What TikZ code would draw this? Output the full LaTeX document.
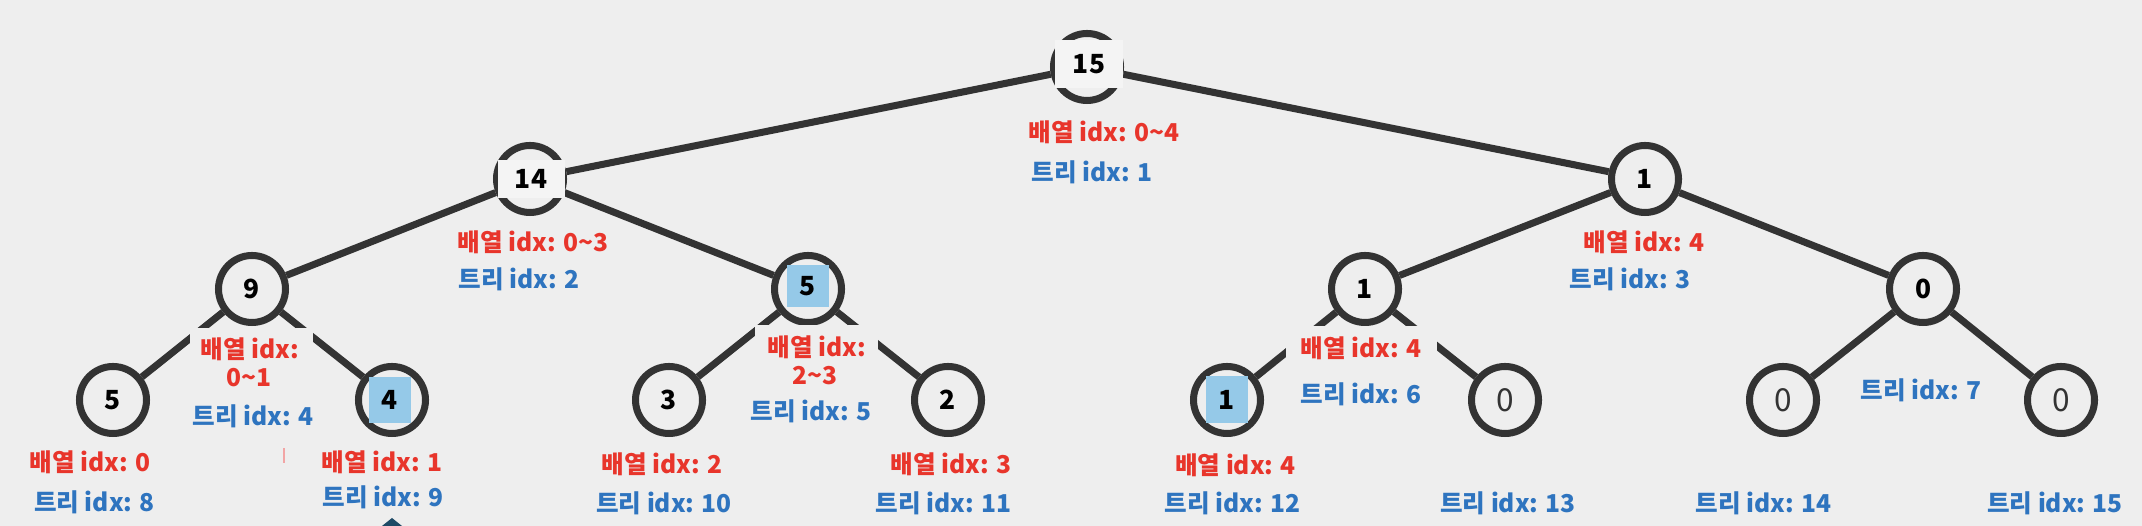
\documentclass[tikz,border=0pt]{standalone}
\usepackage{fontspec}
\setmainfont{Noto Sans CJK KR}
\usetikzlibrary{positioning}
\definecolor{paper}{HTML}{EEEEEE}
\definecolor{chalk}{HTML}{F4F4F4}
\definecolor{ink}{HTML}{333333}
\definecolor{arrred}{HTML}{E8352B}
\definecolor{treeblue}{HTML}{2E74BF}
\definecolor{skyfill}{HTML}{95C9E8}
\definecolor{slip}{HTML}{F2A5A5}
\definecolor{navy}{HTML}{1E4A66}
\tikzset{
  val/.style={circle,draw=ink,line width=2pt,fill=paper,minimum size=.67cm,inner sep=0pt,
    font=\fontsize{7.5}{9}\selectfont\bfseries},
  val0/.style={val,font=\fontsize{9}{10}\selectfont,text=ink},
  edge/.style={draw=ink,line width=2pt},
  pale/.style={fill=chalk,inner sep=0pt,font=\fontsize{7.5}{9}\selectfont\bfseries},
  hilite/.style={fill=skyfill,inner sep=0pt,minimum width=.42cm,font=\fontsize{7.5}{9}\selectfont\bfseries},
  cover/.style={fill=paper,inner sep=0pt},
  arr/.style={text=arrred,font=\fontsize{7}{8}\selectfont\bfseries,anchor=base,inner sep=0pt},
  tri/.style={text=treeblue,font=\fontsize{7}{8}\selectfont\bfseries,anchor=base,inner sep=0pt}
}
\begin{document}
\begin{tikzpicture}[x=1cm,y=1cm]
\fill[paper] (0,0) rectangle (21.42,5.26);
\useasboundingbox (0,0) rectangle (21.42,5.26);
% segment tree nodes (name = tree idx)
\foreach \n/\x/\y in {1/10.87/4.59,2/5.30/3.47,5/8.08/2.37,9/3.92/1.26,12/12.27/1.26}
  \node[val] (n\n) at (\x,\y) {};
\foreach \n/\x/\y/\v in {3/16.45/3.47/1,4/2.52/2.37/9,6/13.65/2.37/1,7/19.23/2.37/0,
  8/1.13/1.26/5,10/6.69/1.26/3,11/9.48/1.26/2}
  \node[val] (n\n) at (\x,\y) {\v};
\foreach \n/\x in {13/15.05,14/17.83,15/20.61}
  \node[val0] (n\n) at (\x,1.26) {0};
\foreach \a/\b in {1/2,1/3,2/4,2/5,3/6,3/7,4/8,4/9,5/10,5/11,6/12,6/13,7/14,7/15}
  \draw[edge] (n\a) -- (n\b);
% boxes over the lines
\node[cover,minimum width=1.23cm,minimum height=1.03cm] (c4) at (2.515,1.465) {};
\node[cover,minimum width=1.23cm,minimum height=1.06cm] (c5) at (8.165,1.48) {};
\node[cover,minimum width=1.51cm,minimum height=1.05cm] (c6) at (13.615,1.475) {};
\node[pale,minimum width=.68cm,minimum height=.48cm] (v1) at (10.89,4.62) {15};
\node[pale,minimum width=.67cm,minimum height=.38cm] (v2) at (5.31,3.47) {14};
\node[hilite,minimum height=.42cm] (v5) at (8.08,2.40) {5};
\node[hilite,minimum height=.46cm] (v9) at (3.90,1.26) {4};
\node[hilite,minimum height=.47cm] (v12) at (12.27,1.26) {1};
% labels
\node[arr,anchor=base west] (a1) at (10.28,3.84) {배열 idx: 0\textasciitilde4};
\node[tri,anchor=base west] (t1) at (10.31,3.44) {트리 idx: 1};
\node[arr,anchor=base west] (a2) at (4.57,2.74) {배열 idx: 0\textasciitilde3};
\node[tri,anchor=base west] (t2) at (4.58,2.37) {트리 idx: 2};
\node[arr] (a3) at (16.44,2.74) {배열 idx: 4};
\node[tri] (t3) at (16.30,2.37) {트리 idx: 3};
\node[arr] (a4) at (2.50,1.67) {배열 idx:};
\node[arr] (b4) at (2.49,1.39) {0\textasciitilde1};
\node[tri] (t4) at (2.53,1.00) {트리 idx: 4};
\node[arr] (a5) at (8.17,1.69) {배열 idx:};
\node[arr] (b5) at (8.15,1.41) {2\textasciitilde3};
\node[tri] (t5) at (8.11,1.05) {트리 idx: 5};
\node[arr] (a6) at (13.61,1.68) {배열 idx: 4};
\node[tri] (t6) at (13.61,1.22) {트리 idx: 6};
\node[tri] (t7) at (19.21,1.26) {트리 idx: 7};
\node[arr] (a8) at (0.90,0.54) {배열 idx: 0};
\node[tri] (t8) at (0.945,0.14) {트리 idx: 8};
\node[arr] (a9) at (3.82,0.54) {배열 idx: 1};
\node[tri] (t9) at (3.83,0.19) {트리 idx: 9};
\node[arr] (a10) at (6.62,0.52) {배열 idx: 2};
\node[tri] (t10) at (6.64,0.13) {트리 idx: 10};
\node[arr] (a11) at (9.51,0.52) {배열 idx: 3};
\node[tri] (t11) at (9.435,0.13) {트리 idx: 11};
\node[arr] (a12) at (12.355,0.51) {배열 idx: 4};
\node[tri] (t12) at (12.325,0.13) {트리 idx: 12};
\node[tri] (t13) at (15.08,0.13) {트리 idx: 13};
\node[tri] (t14) at (17.635,0.13) {트리 idx: 14};
\node[tri] (t15) at (20.55,0.13) {트리 idx: 15};
% stray marks
\draw[slip,line width=.4pt] (2.84,0.63) -- (2.84,0.78);
\fill[navy] (3.82,0) -- (3.92,0.08) -- (4.02,0) -- cycle;
\end{tikzpicture}
\end{document}
